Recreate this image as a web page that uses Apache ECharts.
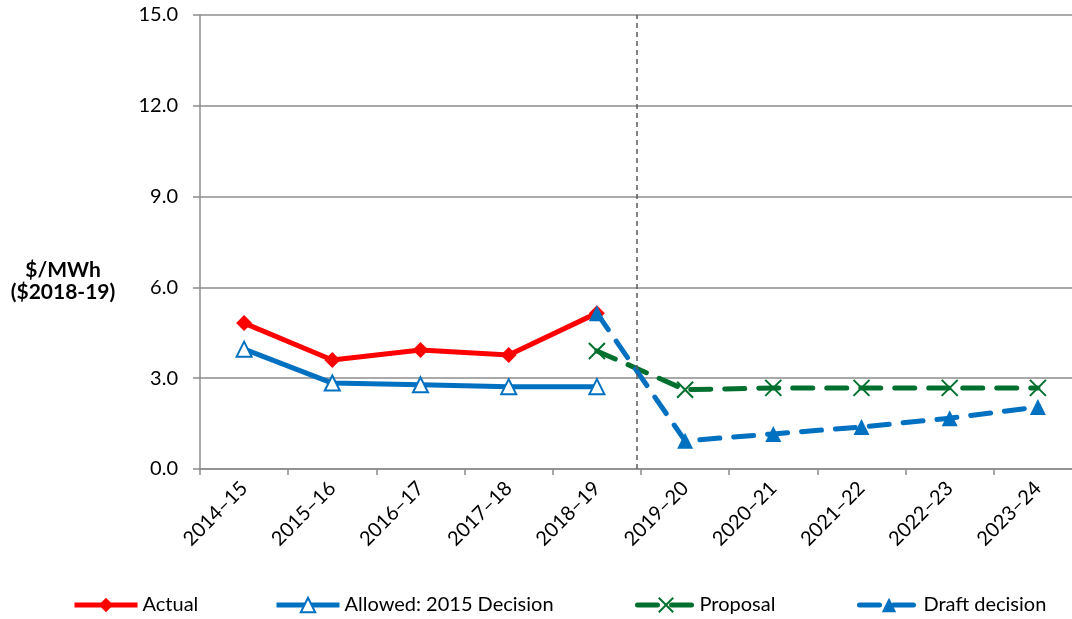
<!DOCTYPE html>
<html><head><meta charset="utf-8">
<script src="https://cdn.jsdelivr.net/npm/echarts@6/dist/echarts.min.js"></script>
<style>html,body{margin:0;padding:0;background:#fff}#c{width:1072px;height:619px}</style>
</head><body><div id="c"></div>
<script>
var categories = ['2014–15','2015–16','2016–17','2017–18','2018–19','2019–20','2020–21','2021–22','2022–23','2023–24'];
var actual   = [4.82, 3.60, 3.93, 3.77, 5.15, null, null, null, null, null];
var allowed  = [3.96, 2.84, 2.78, 2.72, 2.72, null, null, null, null, null];
var proposal = [null, null, null, null, 3.90, 2.62, 2.68, 2.68, 2.68, 2.68];
var draft    = [null, null, null, null, 5.15, 0.93, 1.16, 1.39, 1.68, 2.05];
var yTicks = [0, 3, 6, 9, 12, 15];
var dividerAt = 4.45;

var FONT = 'Lato, "Open Sans", sans-serif';
var chart = echarts.init(document.getElementById('c'), null, {renderer:'canvas'});
var green = '#00702E', blue = '#0070C0', red = '#FF0000';
var crossPath = 'path://M0,0L10,10M10,0L0,10';
function legendAt(name, left, w) {
  return {
    data: [name], left: left, top: 595, padding: 0, itemWidth: w, itemHeight: 18, itemGap: 6,
    textStyle: {fontSize: 20, color: '#000', fontFamily: FONT},
    lineStyle: {width: 5}
  };
}
chart.setOption({
  animation: false,
  textStyle: {fontFamily: FONT},
  grid: {left: 200, width: 882, top: 15, height: 454, containLabel: false, outerBoundsMode: 'none'},
  xAxis: [{
    type: 'category', data: categories, boundaryGap: true,
    axisLine: {lineStyle: {color: '#8c8c8c', width: 1.5}},
    axisTick: {show: true, length: 6, lineStyle: {color: '#8c8c8c', width: 1.5}},
    axisLabel: {rotate: 45, margin: 16, fontSize: 20, color: '#000', fontFamily: FONT, interval: 0},
    splitLine: {show: false}
  }, {
    type: 'value', min: -0.5, max: 9.5, show: false
  }],
  yAxis: {
    type: 'value', min: yTicks[0], max: yTicks[yTicks.length-1], interval: 3,
    axisLine: {show: true, onZero: false, lineStyle: {color: '#8c8c8c', width: 1.5}},
    axisTick: {show: true, length: 7, inside: false, lineStyle: {color: '#8c8c8c', width: 1.5}},
    axisLabel: {fontSize: 20, color: '#000', margin: 22, fontFamily: FONT, formatter: function(v){return v.toFixed(1);}},
    splitLine: {show: true, lineStyle: {color: '#8c8c8c', width: 1.5}}
  },
  legend: [
    legendAt('Actual', 72, 63),
    legendAt('Allowed: 2015 Decision', 274, 63),
    legendAt('Proposal', 635, 57),
    legendAt('Draft decision', 857, 59)
  ],
  graphic: [
    {type: 'text', x: 63, y: 270, style: {text: '$/MWh', font: 'bold 21px ' + FONT, fill: '#000', align: 'center', verticalAlign: 'middle'}},
    {type: 'text', x: 63, y: 292, style: {text: '($2018-19)', font: 'bold 21px ' + FONT, fill: '#000', align: 'center', verticalAlign: 'middle'}}
  ],
  series: [
    {
      name: 'divider', type: 'line', xAxisIndex: 1, data: [], silent: true,
      markLine: {silent: true, symbol: 'none', label: {show: false},
        lineStyle: {color: '#595959', type: [5, 4], width: 1.5},
        data: [{xAxis: dividerAt}]}
    },
    {
      name: 'Actual', type: 'line', data: actual, connectNulls: false,
      symbol: 'diamond', symbolSize: 16,
      lineStyle: {color: red, width: 5},
      itemStyle: {color: red}
    },
    {
      name: 'Allowed: 2015 Decision', type: 'line', data: allowed,
      symbol: 'emptyTriangle', symbolSize: 15,
      lineStyle: {color: blue, width: 5},
      itemStyle: {color: blue, borderColor: blue, borderWidth: 1.5}
    },
    {
      name: 'Proposal', type: 'line', data: proposal,
      symbol: crossPath, symbolSize: 16,
      lineStyle: {color: green, width: 5, type: [20, 14], cap: 'round'},
      itemStyle: {color: green, borderColor: green, borderWidth: 2}
    },
    {
      name: 'Draft decision', type: 'line', data: draft,
      symbol: 'triangle', symbolSize: 16,
      lineStyle: {color: blue, width: 5, type: [20, 14], cap: 'round'},
      itemStyle: {color: blue}
    }
  ]
});
</script></body></html>
